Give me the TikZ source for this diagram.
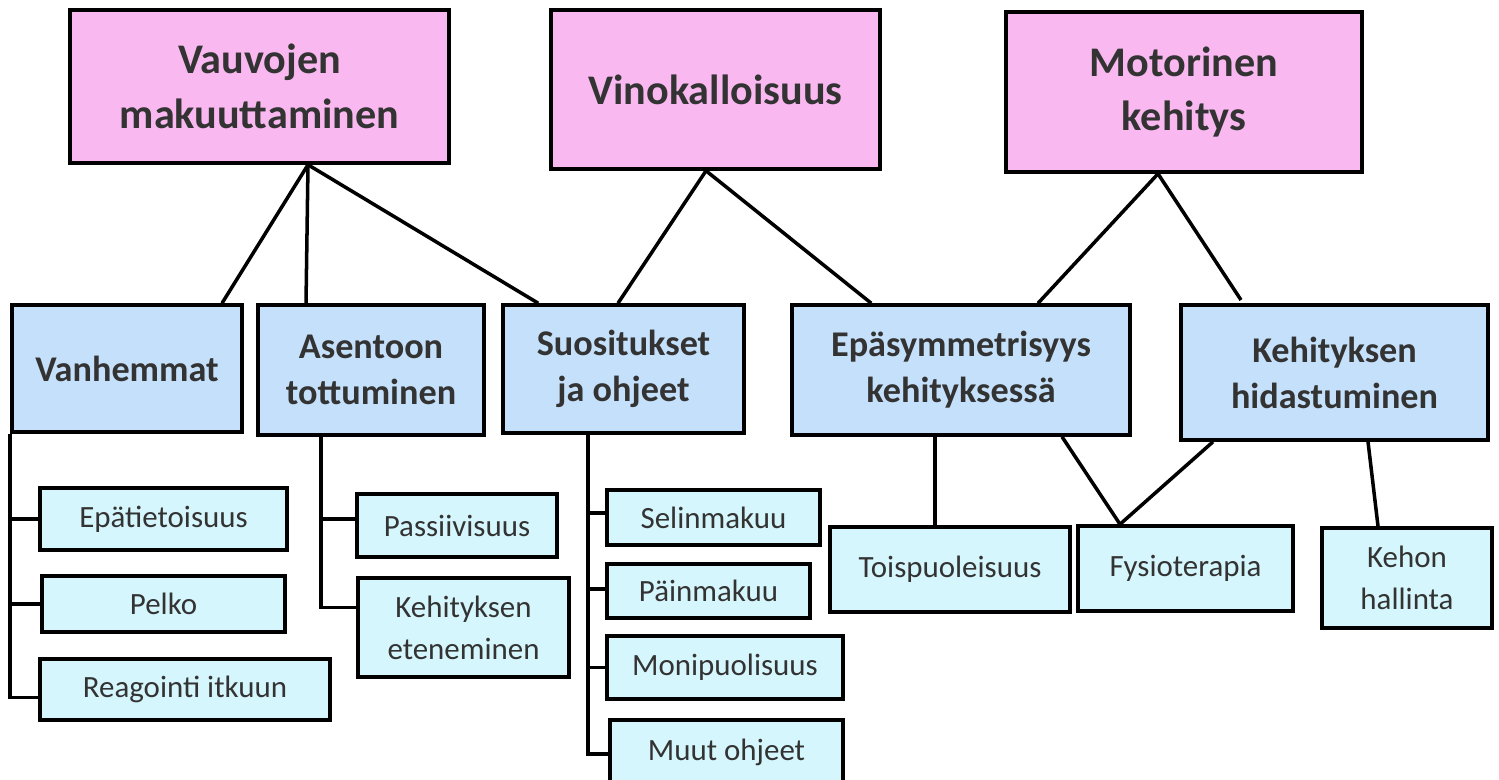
\documentclass[tikz,border=0pt]{standalone}
\usepackage{fontspec}
\setmainfont{Carlito}
\usetikzlibrary{calc}
\definecolor{pinkbox}{RGB}{249,185,240}
\definecolor{bluebox}{RGB}{197,224,250}
\definecolor{cyanbox}{RGB}{213,246,252}
\definecolor{textgray}{RGB}{51,51,51}
\tikzset{
  box/.style={draw=black, line width=1pt, text=textgray, align=center, inner sep=0pt},
  topic/.style={box, fill=pinkbox, font=\fontsize{12}{15.6}\selectfont\bfseries},
  sub/.style={box, fill=bluebox, font=\fontsize{10.3}{13.1}\selectfont\bfseries},
  leaf/.style={box, fill=cyanbox, font=\fontsize{8.8}{11.9}\selectfont},
  link/.style={line width=1pt}
}

\begin{document}
\begin{tikzpicture}
  \path[use as bounding box] (0,0) rectangle (14.99,-7.79);
  % main topics
  \node[topic, minimum width=3.79cm, minimum height=1.53cm] (vauvat) at (2.595,-0.865) {Vauvojen\\makuuttaminen};
  \node[topic, minimum width=3.29cm, minimum height=1.59cm] (vino) at (7.155,-0.895) {Vinokalloisuus};
  \node[topic, minimum width=3.56cm, minimum height=1.60cm] (motor) at (11.84,-0.92) {Motorinen\\kehitys};
  % second level
  \node[sub, minimum width=2.30cm, minimum height=1.27cm] (vanh) at (1.27,-3.685) {Vanhemmat};
  \node[sub, minimum width=2.26cm, minimum height=1.30cm] (asento) at (3.71,-3.70) {Asentoon\\tottuminen};
  \node[sub, minimum width=2.41cm, minimum height=1.28cm] (suos) at (6.235,-3.69) {Suositukset\\ja ohjeet};
  \node[sub, minimum width=3.38cm, minimum height=1.30cm] (epas) at (9.61,-3.70) {Epäsymmetrisyys\\kehityksessä};
  \node[sub, minimum width=3.07cm, minimum height=1.35cm] (hidas) at (13.345,-3.725) {Kehityksen\\hidastuminen};
  % leaves
  \node[leaf, minimum width=2.47cm, minimum height=0.62cm] (epat) at (1.635,-5.19) {Epätietoisuus};
  \node[leaf, minimum width=2.43cm, minimum height=0.56cm] (pelko) at (1.635,-6.04) {Pelko};
  \node[leaf, minimum width=2.90cm, minimum height=0.61cm] (reag) at (1.85,-6.895) {Reagointi itkuun};
  \node[leaf, minimum width=2.00cm, minimum height=0.63cm] (passi) at (4.57,-5.255) {Passiivisuus};
  \node[leaf, minimum width=2.11cm, minimum height=0.99cm] (eten) at (4.635,-6.275) {Kehityksen\\eteneminen};
  \node[leaf, minimum width=2.13cm, minimum height=0.55cm] (selin) at (7.135,-5.175) {Selinmakuu};
  \node[leaf, minimum width=2.03cm, minimum height=0.54cm] (pain) at (7.085,-5.91) {Päinmakuu};
  \node[leaf, minimum width=2.36cm, minimum height=0.63cm] (moni) at (7.25,-6.675) {Monipuolisuus};
  \node[leaf, minimum width=2.33cm, minimum height=0.64cm] (muut) at (7.265,-7.52) {Muut ohjeet};
  \node[leaf, minimum width=2.40cm, minimum height=0.85cm] (toisp) at (9.50,-5.695) {Toispuoleisuus};
  \node[leaf, minimum width=2.15cm, minimum height=0.85cm] (fysio) at (11.855,-5.685) {Fysioterapia};
  \node[leaf, minimum width=1.70cm, minimum height=1.00cm] (kehon) at (14.07,-5.78) {Kehon\\hallinta};

  % topic links
  \draw[link] ($(vauvat.south)+(0.485,0)$) -- ($(vanh.north)+(0.95,0)$);
  \draw[link] ($(vauvat.south)+(0.485,0)$) -- ($(asento.north)+(-0.65,0)$);
  \draw[link] ($(vauvat.south)+(0.485,0)$) -- ($(suos.north west)+(0.37,0)$);
  \draw[link] ($(vino.south)+(-0.095,0)$) -- ($(suos.north)+(-0.055,0)$);
  \draw[link] ($(vino.south)+(-0.095,0)$) -- ($(epas.north west)+(0.81,0)$);
  \coordinate (hidasend) at (12.41,-3.00);
  \draw[link] ($(motor.south)+(-0.26,0)$) -- ($(epas.north)+(0.77,0)$);
  \draw[link] ($(motor.south)+(-0.26,0)$) -- (hidasend);
  \draw[link] ($(epas.south)+(-0.26,0)$) -- ($(toisp.north)+(-0.15,0)$);
  \draw[link] ($(epas.south)+(1.01,0)$) -- ($(fysio.north)+(-0.655,0)$);
  \draw[link] ($(hidas.south)+(-1.215,0)$) -- ($(fysio.north)+(-0.655,0)$);
  \draw[link] ($(hidas.south)+(0.335,0)$) -- ($(kehon.north)+(-0.29,0)$);

  % list branches
  \foreach \leafname/\dy in {epat/0, pelko/0, reag/-0.08}
    \draw[link] (vanh.south west) |- ($(\leafname.west)+(0,\dy)$);
  \foreach \leafname/\dy in {passi/0.065, eten/0.20}
    \draw[link] ($(asento.south)+(-0.50,0)$) |- ($(\leafname.west)+(0,\dy)$);
  \foreach \leafname/\dy in {selin/0.045, pain/0.02, moni/0, muut/-0.02}
    \draw[link] ($(suos.south)+(-0.355,0)$) |- ($(\leafname.west)+(0,\dy)$);
\end{tikzpicture}
\end{document}
